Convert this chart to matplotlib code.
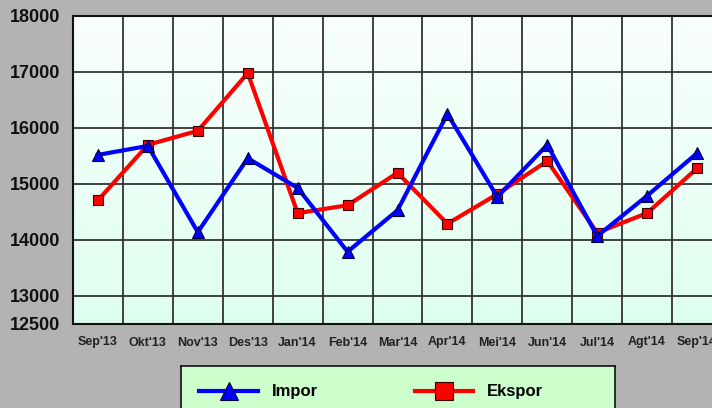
import numpy as np
import matplotlib
matplotlib.use('Agg')
import matplotlib.pyplot as plt
from matplotlib.lines import Line2D

#months on the x axis
months = ["Sep'13", "Okt'13", "Nov'13", "Des'13", "Jan'14", "Feb'14", "Mar'14",
          "Apr'14", "Mei'14", "Jun'14", "Jul'14", "Agt'14", "Sep'14"]

#values
impor = [15520, 15680, 14140, 15460, 14930, 13790, 14530,
         16250, 14770, 15700, 14070, 14790, 15550]
ekspor = [14710, 15700, 15950, 16980, 14480, 14620, 15200,
          14290, 14820, 15410, 14130, 14480, 15280]

y_ticks = [12500, 13000, 14000, 15000, 16000, 17000, 18000]

fonts = ['Liberation Sans', 'DejaVu Sans']
plt.rcParams['font.family'] = fonts

fig = plt.figure(figsize=(7.12, 4.08), dpi=100, facecolor='#b3b3b3')
ax = fig.add_axes([73/712, (408-324)/408, 649/712, (324-16)/408])

#gradient background, white on top going to pale green
grad = np.linspace(0, 1, 256).reshape(-1, 1)
top = np.array([0.98, 1.0, 0.99])
bot = np.array([0.87, 1.0, 0.94])
img = top + (bot - top) * grad[:, :, None]
ax.imshow(img, extent=[0, 1, 0, 1], transform=ax.transAxes, aspect='auto', zorder=0)

x = np.arange(len(months))
ax.plot(x, impor, color='#0000ff', lw=3, marker='^', ms=8, mfc='#0000ff',
        mec='#000033', mew=0.8, zorder=4)
ax.plot(x, ekspor, color='#ff0000', lw=3, marker='s', ms=7, mfc='#ff0000',
        mec='#330000', mew=0.8, zorder=3)

ax.set_xlim(-0.5, len(months) - 0.5)
ax.set_ylim(12500, 18000)

ax.set_xticks(x)
ax.set_xticklabels(months, fontsize=9, fontweight='bold', color='#222222')
ax.set_xticks(x[:-1] + 0.5, minor=True)
ax.set_yticks(y_ticks)
ax.set_yticklabels([str(v) for v in y_ticks], fontsize=13, fontweight='bold', color='#111111')
ax.tick_params(axis='both', which='both', length=0)
ax.tick_params(axis='x', pad=9)
ax.tick_params(axis='y', pad=9)

ax.grid(True, which='minor', axis='x', color='#333333', lw=1.3)
ax.grid(True, which='major', axis='y', color='#333333', lw=1.3)
ax.set_axisbelow(True)
for g in ax.get_xgridlines() + ax.get_ygridlines():
    g.set_zorder(1)

for s in ax.spines.values():
    s.set_color('#111111')
    s.set_linewidth(1.5)

#legend box, runs off the bottom of the picture like the original
lax = fig.add_axes([181/712, (408-420)/408, (615-181)/712, 54/408], facecolor='#ccffcc')
lax.set_xticks([])
lax.set_yticks([])
for s in lax.spines.values():
    s.set_color('#111111')
    s.set_linewidth(1.2)

handles = [Line2D([], [], color='#0000ff', lw=3, marker='^', ms=13, mfc='#0000ff',
                  mec='#000033', mew=0.8),
           Line2D([], [], color='#ff0000', lw=3, marker='s', ms=13, mfc='#ff0000',
                  mec='#330000', mew=0.8)]
lax.legend(handles, ['Impor', 'Ekspor'], loc='upper left',
           bbox_to_anchor=(0, 1), ncol=2, frameon=False,
           handlelength=3.5, handletextpad=0.85,
           columnspacing=5.8, borderpad=1.1, borderaxespad=0,
           prop={'family': fonts, 'weight': 'bold', 'size': 12})

fig.savefig('out.png', dpi=100, facecolor=fig.get_facecolor())
